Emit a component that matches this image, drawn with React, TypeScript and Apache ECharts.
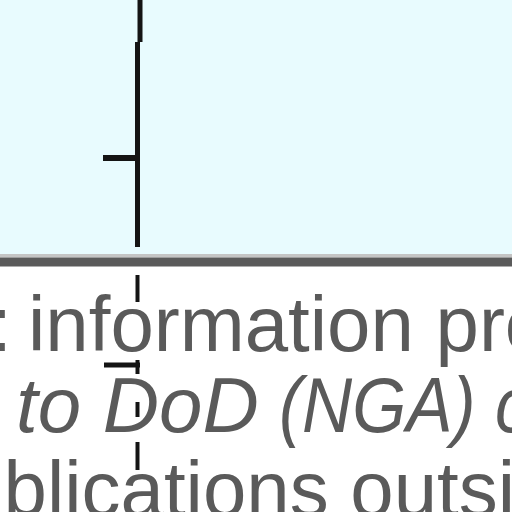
import React, { useEffect, useRef } from "react";
import * as echarts from "echarts";

// Text of the (cropped) annotation below the plot, split in runs
const textRuns = ["t:", "information pro", "to DoD", "(NGA) c", "blications outsi"];
const textRunLine = [0, 0, 1, 1, 2];
const textItalic = [false, false, true, true, false];

// Whisker of the plot, in plot units: [x, yFrom, yTo]
const whiskerStems: number[][] = [
  [140, -10, 42],
  [137.5, 42, 247],
];
// Whisker caps: [y, xFrom, xTo]
const whiskerCaps: number[][] = [[158, 103, 138]];

// Faint continuation below the plot (dashed pieces)
const ghostStems: number[][] = [
  [137.5, 275, 302],
  [137.5, 360, 374],
  [137.5, 402, 417],
  [137.5, 442, 470],
];
const ghostCaps: number[][] = [[365, 104, 140]];

const vRender = (width: number) => (params: any, api: any) => {
  const x = api.value(0);
  const a = api.coord([x, api.value(1)]);
  const b = api.coord([x, api.value(2)]);
  return {
    type: "line",
    shape: { x1: a[0], y1: a[1], x2: b[0], y2: b[1] },
    style: { stroke: "#141414", lineWidth: width },
  };
};
const hRender = (width: number) => (params: any, api: any) => {
  const y = api.value(0);
  const a = api.coord([api.value(1), y]);
  const b = api.coord([api.value(2), y]);
  return {
    type: "line",
    shape: { x1: a[0], y1: a[1], x2: b[0], y2: b[1] },
    style: { stroke: "#141414", lineWidth: width },
  };
};

export default function App() {
  const ref = useRef<HTMLDivElement>(null);
  useEffect(() => {
    document.body.style.margin = "0";
    const chart = echarts.init(ref.current!, null, { renderer: "svg" });
    const fontSize = 78;
    const baselines = [351, 432, 516];
    const runX = [12, 28, 16, 279, 3.5];
    const runAlign = ["right", "left", "left", "left", "left"];
    const runScale = [1, 1, 1, 0.89, 1];
    chart.setOption({
      animation: false,
      grid: { left: 0, right: 0, top: 0, bottom: 0 },
      xAxis: { type: "value", min: 0, max: 512, show: false },
      yAxis: { type: "value", min: 0, max: 512, inverse: true, show: false },
      graphic: [
        {
          type: "rect",
          z: -10,
          shape: { x: 0, y: 0, width: 512, height: 255 },
          style: { fill: "#e8fbfe" },
        },
        {
          type: "rect",
          z: -9,
          shape: { x: 0, y: 254, width: 512, height: 3.5 },
          style: { fill: "#c4c4c4" },
        },
        {
          type: "rect",
          z: -9,
          shape: { x: 0, y: 257.5, width: 512, height: 9 },
          style: { fill: "#5a5a5a" },
        },
        ...textRuns.map((t, i) => ({
          type: "text",
          z: 50,
          x: runX[i],
          y: baselines[textRunLine[i]] - fontSize * 0.3465,
          scaleX: runScale[i],
          style: {
            text: t,
            fill: "#5a5a5a",
            font: `${textItalic[i] ? "italic " : ""}${fontSize}px "Liberation Sans", Arial, sans-serif`,
            textAlign: runAlign[i],
            textVerticalAlign: "middle",
          },
        })),
      ],
      series: [
        {
          type: "custom",
          name: "whisker",
          clip: false,
          renderItem: vRender(5),
          encode: { x: 0, y: [1, 2] },
          data: whiskerStems,
        },
        {
          type: "custom",
          name: "cap",
          clip: false,
          renderItem: hRender(6),
          encode: { y: 0, x: [1, 2] },
          data: whiskerCaps,
        },
        {
          type: "custom",
          name: "ghost",
          clip: false,
          renderItem: vRender(4),
          encode: { x: 0, y: [1, 2] },
          data: ghostStems,
        },
        {
          type: "custom",
          name: "ghostCap",
          clip: false,
          renderItem: hRender(5),
          encode: { y: 0, x: [1, 2] },
          data: ghostCaps,
        },
      ],
    });
    return () => chart.dispose();
  }, []);
  return <div ref={ref} style={{ width: 512, height: 512 }} />;
}
